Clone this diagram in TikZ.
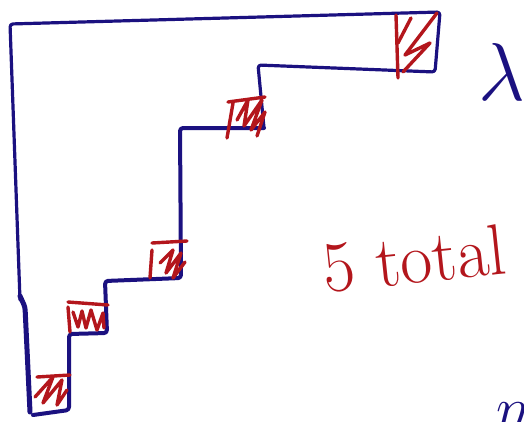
\documentclass[tikz,border=0pt]{standalone}
\usepackage{amssymb,amsmath}
\usepackage{xcolor}
\usepackage{tikz}
\definecolor{inkblue}{HTML}{1B1180}
\definecolor{inkred}{HTML}{B3161C}
\tikzset{
  outline/.style={draw=inkblue, line width=4pt, line cap=round, line join=round, rounded corners=3pt},
  hatch/.style={draw=inkred, line width=3.4pt, line cap=round, line join=round},
}
\begin{document}
\begin{tikzpicture}[x=1pt, y=-1pt]
				\useasboundingbox (0, 0) rectangle (524, 421);
				
				\draw[outline, line width=3.2pt] (20, 300) -- (10, 24) -- (440, 12) -- (435, 72) -- (258, 65) -- (264, 128);
				\draw[outline] (264, 128) -- (180, 128) -- (181, 278) -- (105, 281) -- (107, 333) -- (69, 334) -- (69, 410) -- (33, 415);
				\draw[outline, line width=5pt] (20, 296) -- (25, 307) -- (30, 412);
				
				\draw[hatch] (396, 15) -- (398, 78);
				\draw[hatch] (398, 43) -- (411, 18);
				\draw[hatch] (437, 13) -- (405, 55) -- (430, 43) -- (403, 72);
				
				\draw[hatch] (233, 103) -- (227, 138);
				\draw[hatch] (228, 102) -- (265, 97);
				\draw[hatch] (237, 120) -- (248, 100) -- (244, 126) -- (262, 100) -- (251, 130) -- (265, 112) -- (257, 136);
				
				\draw[hatch] (152, 243) -- (187, 241);
				\draw[hatch] (152, 250) -- (150, 278);
				\draw[hatch] (160, 263) -- (173, 250) -- (166, 273) -- (181, 253) -- (173, 278) -- (185, 262);
				
				\draw[hatch] (68, 302) -- (108, 305);
				\draw[hatch] (68, 307) -- (70, 332);
				\draw[hatch] (73, 312) -- (78, 327) -- (82, 311) -- (86, 328) -- (91, 310) -- (97, 330) -- (103, 313) -- (104, 328);
				
				\draw[hatch] (37, 377) -- (70, 375);
				\draw[hatch] (35, 397) -- (53, 377) -- (43, 403) -- (62, 380) -- (57, 405) -- (67, 390);
				
				\node[text=inkred, anchor=base west, inner sep=0pt, rotate=6, xscale=2.8, yscale=2.9, font=\Huge] (total) at (325, 293) {5 total};
				\node[text=inkblue, scale=3.3, font=\Huge] (lambda) at (502, 72) {$\lambda$};
				\node[text=inkblue, anchor=base west, inner sep=0pt, scale=2.4, font=\Huge] (size) at (496, 428) {$n$};
			\end{tikzpicture}
\end{document}
